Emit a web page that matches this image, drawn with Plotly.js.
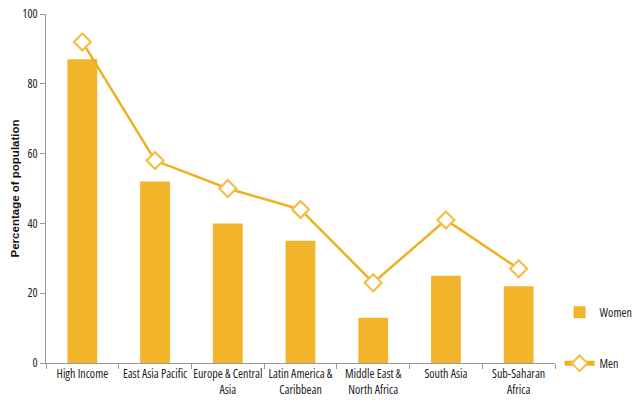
<!DOCTYPE html>
<html>
<head>
<meta charset="utf-8">
<script src="https://cdn.plot.ly/plotly-3.0.1.min.js"></script>
<style>html,body{margin:0;padding:0;background:#fff;}#chart{width:633px;height:407px;}
#chart .xtick text, #chart .ytick text, #chart .legendtext{font-stretch:condensed !important;}
</style>
</head>
<body>
<div id="chart"></div>
<script>
const categories = ["High Income", "East Asia Pacific", "Europe & Central<br>Asia", "Latin America &<br>Caribbean", "Middle East &<br>North Africa", "South Asia", "Sub-Saharan<br>Africa"];
const women = [87, 52, 40, 35, 13, 25, 22];
const men = [92, 58, 50, 44, 23, 41, 27];
const yTicks = [0, 20, 40, 60, 80, 100];
const yTitle = 'Percentage of population';

const FONT = '"Open Sans", "Roboto", sans-serif';
const ORANGE = '#F2B42A';

const traces = [
  {
    type: 'bar', name: 'Women', x: categories, y: women,
    marker: {color: ORANGE}, legendgroup: 'w'
  },
  {
    type: 'scatter', mode: 'lines+markers', name: 'Men', x: categories, y: men,
    line: {color: '#F0B020', width: 2.5},
    marker: {symbol: 'diamond', size: 13, color: '#ffffff', line: {color: '#F3BE45', width: 2.2}},
    legendgroup: 'm'
  }
];

const layout = {
  width: 633, height: 407,
  margin: {l: 46, r: 78, t: 14, b: 44, autoexpand: false},
  paper_bgcolor: '#fff', plot_bgcolor: '#fff',
  font: {family: FONT, size: 12, color: '#222'},
  bargap: 0.59,
  showlegend: true,
  legend: {xref: 'container', yref: 'container', x: 0.884, xanchor: 'left', y: 0.17, yanchor: 'middle',
           tracegroupgap: 32, itemsizing: 'constant',
           font: {family: FONT, size: 12, color: '#222'}, bgcolor: 'rgba(0,0,0,0)'},
  xaxis: {
    type: 'category', showgrid: false, zeroline: false,
    showline: true, linecolor: '#999', linewidth: 1,
    ticks: 'outside', tickson: 'boundaries', ticklen: 5, tickcolor: '#999',
    tickangle: 0, automargin: false,
    tickfont: {family: FONT, size: 12, color: '#222'}
  },
  yaxis: {
    range: [0, 100], tickvals: yTicks, showgrid: false, zeroline: false,
    showline: true, linecolor: '#999', linewidth: 1,
    ticks: 'outside', ticklen: 5, tickcolor: '#999', automargin: false,
    tickfont: {family: FONT, size: 12, color: '#222'}
  },
  annotations: [{
    text: '<b>' + yTitle + '</b>', xref: 'paper', yref: 'paper', x: -0.061, y: 0.5,
    xanchor: 'center', yanchor: 'middle', textangle: -90, showarrow: false,
    font: {family: '"Liberation Sans", sans-serif', size: 11.5, color: '#111'}
  }]
};

Plotly.newPlot('chart', traces, layout, {displayModeBar: false, staticPlot: true});
</script>
</body>
</html>
